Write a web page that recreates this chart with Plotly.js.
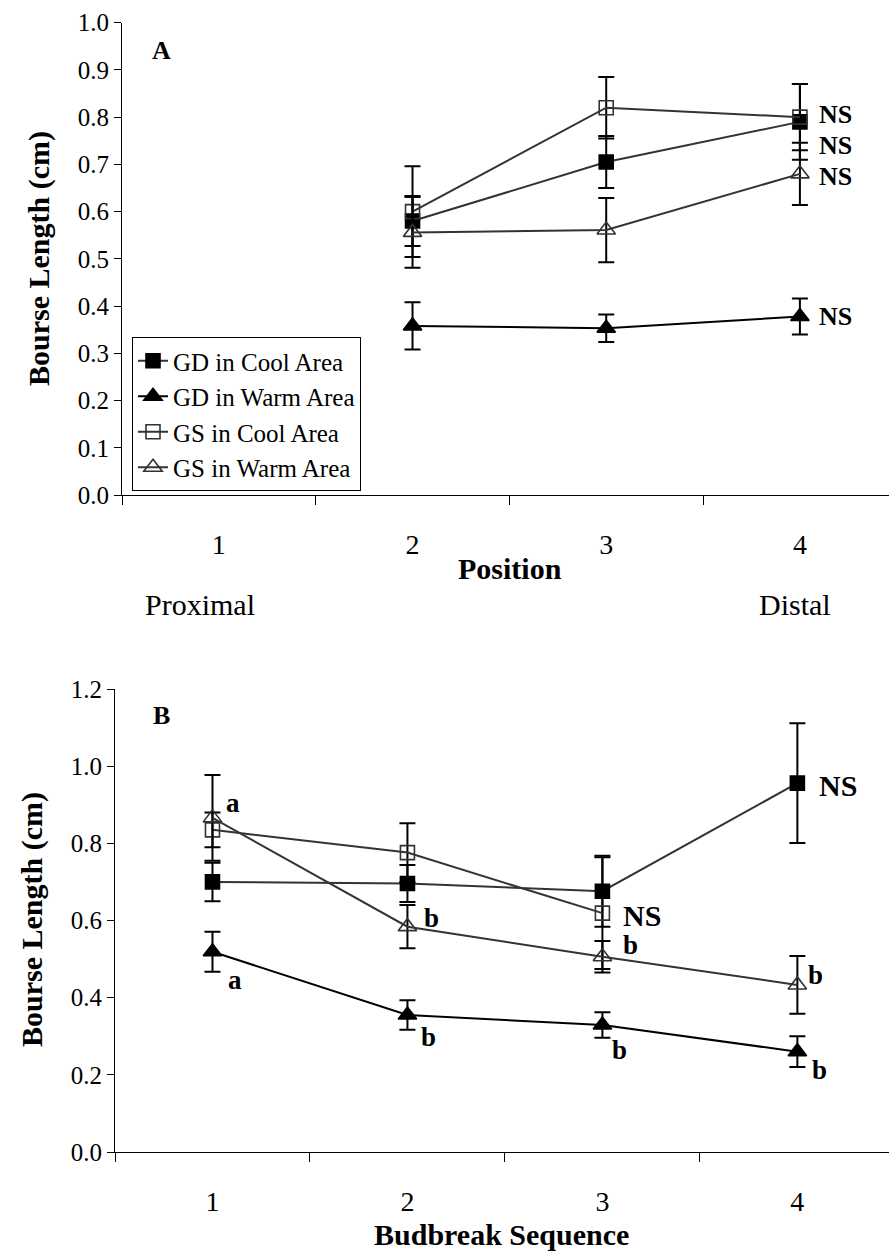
<!DOCTYPE html>
<html>
<head>
<meta charset="utf-8">
<script src="https://cdn.plot.ly/plotly-3.0.1.min.js"></script>
<style>
  html, body { margin: 0; padding: 0; background: #fff; }
  #chart { width: 889px; height: 1251px; }
</style>
</head>
<body>
<div id="chart"></div>
<script>
// ---------- data ----------
const categories = [1, 2, 3, 4];
const xTickLabels = ['1', '2', '3', '4'];
const seriesNames = ['GD in Cool Area', 'GD in Warm Area', 'GS in Cool Area', 'GS in Warm Area'];

// Panel A : Position
const gdCoolA    = [null, 0.580, 0.705, 0.790];
const gdCoolAErr = [null, 0.053, 0.055, 0.080];
const gdWarmA    = [null, 0.358, 0.353, 0.378];
const gdWarmAErr = [null, 0.050, 0.029, 0.038];
const gsCoolA    = [null, 0.600, 0.820, 0.800];
const gsCoolAErr = [null, 0.096, 0.065, 0.070];
const gsWarmA    = [null, 0.556, 0.561, 0.680];
const gsWarmAErr = [null, 0.075, 0.068, 0.066];

// Panel B : Budbreak sequence
const gdCoolB    = [0.700, 0.696, 0.676, 0.956];
const gdCoolBErr = [0.050, 0.048, 0.092, 0.155];
const gdWarmB    = [0.519, 0.355, 0.329, 0.260];
const gdWarmBErr = [0.052, 0.038, 0.033, 0.040];
const gsCoolB    = [0.835, 0.776, 0.619, null];
const gsCoolBErr = [0.045, 0.076, 0.145, null];
const gsWarmB    = [0.866, 0.584, 0.506, 0.433];
const gsWarmBErr = [0.111, 0.056, 0.041, 0.075];

// significance letters: [label, category, value]
const sigA = [['NS', 4, 0.806], ['NS', 4, 0.740], ['NS', 4, 0.675], ['NS', 4, 0.378]];
const sigB = [['a', 1, 0.905], ['a', 1, 0.446], ['b', 2, 0.607], ['b', 2, 0.298],
              ['NS', 3, 0.614], ['b', 3, 0.537], ['b', 3, 0.264],
              ['NS', 4, 0.949], ['b', 4, 0.459], ['b', 4, 0.213]];
const sigBShift = [12, 14, 15, 12, 19, 19, 8, 20, 9, 13];

// ---------- styling ----------
const FONT = 'Liberation Serif, Times New Roman, serif';
const W = 889, H = 1251;
const px = v => v / W;
const py = v => 1 - v / H;

const styles = [
  {symbol: 'square',          color: '#000', line: '#333', lw: 2},
  {symbol: 'triangle-up',     color: '#000', line: '#000', lw: 2},
  {symbol: 'square-open',     color: '#333', line: '#333', lw: 2},
  {symbol: 'triangle-up-open',color: '#333', line: '#333', lw: 2}
];

function mk(name, y, err, idx, xa, ya, showlegend) {
  const s = styles[idx];
  const isTri = s.symbol.indexOf('triangle') === 0;
  return {
    type: 'scatter', mode: 'lines+markers', name: name,
    x: categories, y: y, xaxis: xa, yaxis: ya, showlegend: showlegend,
    connectgaps: false,
    line: {color: s.line, width: s.lw},
    marker: {symbol: s.symbol, size: isTri ? 16 : 14, color: s.color,
             line: {color: s.color, width: 1.6}},
    error_y: {type: 'data', array: err, visible: true, color: '#000', thickness: 2, width: 8},
    hoverinfo: 'skip'
  };
}

const traces = [
  mk(seriesNames[0], gdCoolA, gdCoolAErr, 0, 'x', 'y', true),
  mk(seriesNames[1], gdWarmA, gdWarmAErr, 1, 'x', 'y', true),
  mk(seriesNames[2], gsCoolA, gsCoolAErr, 2, 'x', 'y', true),
  mk(seriesNames[3], gsWarmA, gsWarmAErr, 3, 'x', 'y', true),
  mk(seriesNames[0], gdCoolB, gdCoolBErr, 0, 'x2', 'y2', false),
  mk(seriesNames[1], gdWarmB, gdWarmBErr, 1, 'x2', 'y2', false),
  mk(seriesNames[2], gsCoolB, gsCoolBErr, 2, 'x2', 'y2', false),
  mk(seriesNames[3], gsWarmB, gsWarmBErr, 3, 'x2', 'y2', false)
];

function xAxis(domain, range, anchor) {
  return {
    domain: domain, range: range, anchor: anchor, fixedrange: true,
    showline: true, linecolor: '#000', linewidth: 1, zeroline: false, showgrid: false,
    tickmode: 'array', tickvals: categories, ticktext: xTickLabels,
    ticks: 'outside', ticklen: 24, tickcolor: 'rgba(0,0,0,0)',
    tickfont: {family: FONT, size: 28, color: '#000'},
    minor: {tickmode: 'array', tickvals: [0.5, 1.5, 2.5, 3.5], ticks: 'outside',
            ticklen: 9, tickcolor: '#000', tickwidth: 1, showgrid: false}
  };
}
function yAxis(domain, range, dtick, anchor) {
  return {
    domain: domain, range: range, anchor: anchor, fixedrange: true,
    showline: true, linecolor: '#000', linewidth: 1, zeroline: false, showgrid: false,
    dtick: dtick, tick0: 0, tickformat: '.1f',
    ticks: 'outside', ticklen: 7, tickcolor: '#000',
    tickfont: {family: FONT, size: 25, color: '#000'}
  };
}

const annotations = [];
function txt(text, x, y, size, bold, opts) {
  annotations.push(Object.assign({
    text: bold ? '<b>' + text + '</b>' : text,
    xref: 'paper', yref: 'paper', x: px(x), y: py(y),
    xanchor: 'center', yanchor: 'middle', showarrow: false,
    font: {family: FONT, size: size, color: '#000'}
  }, opts || {}));
}
txt('Bourse Length (cm)', 39, 259, 30, true, {textangle: -90});
txt('Bourse Length (cm)', 32, 920, 30, true, {textangle: -90});
txt('Position', 510, 568, 30, true);
txt('Proximal', 200, 604, 30, false);
txt('Distal', 795, 604, 30, false);
txt('Budbreak Sequence', 502, 1234, 30, true);
txt('A', 161, 50, 26, true);
txt('B', 161, 715, 26, true);

sigA.forEach(s => annotations.push({
  text: '<b>' + s[0] + '</b>', xref: 'x', yref: 'y', x: s[1], y: s[2],
  xanchor: 'left', yanchor: 'middle', xshift: 17, showarrow: false,
  font: {family: FONT, size: 26, color: '#000'}
}));
sigB.forEach((s, i) => annotations.push({
  text: '<b>' + s[0] + '</b>', xref: 'x2', yref: 'y2', x: s[1], y: s[2],
  xanchor: 'left', yanchor: 'middle', xshift: sigBShift[i], showarrow: false,
  font: {family: FONT, size: s[0] === 'NS' ? 30 : 27, color: '#000'}
}));

const layout = {
  width: W, height: H,
  margin: {l: 0, r: 0, t: 0, b: 0},
  paper_bgcolor: '#fff', plot_bgcolor: 'rgba(0,0,0,0)',
  showlegend: true,
  font: {family: FONT, color: '#000'},
  xaxis:  xAxis([px(122), 1], [0.5, 4.46], 'y'),
  yaxis:  yAxis([py(495), py(22.7)], [0, 1.0], 0.1, 'x'),
  xaxis2: xAxis([px(115), 1], [0.5, 4.47], 'y2'),
  yaxis2: yAxis([py(1152), py(689)], [0, 1.2], 0.2, 'x2'),
  legend: {
    x: px(132), y: py(337), xanchor: 'left', yanchor: 'top',
    bgcolor: '#fff', bordercolor: '#000', borderwidth: 1,
    font: {family: FONT, size: 25, color: '#000'},
    tracegroupgap: 0, itemclick: false, itemdoubleclick: false
  },
  annotations: annotations
};

Plotly.newPlot('chart', traces, layout, {staticPlot: true, displayModeBar: false});
</script>
</body>
</html>
